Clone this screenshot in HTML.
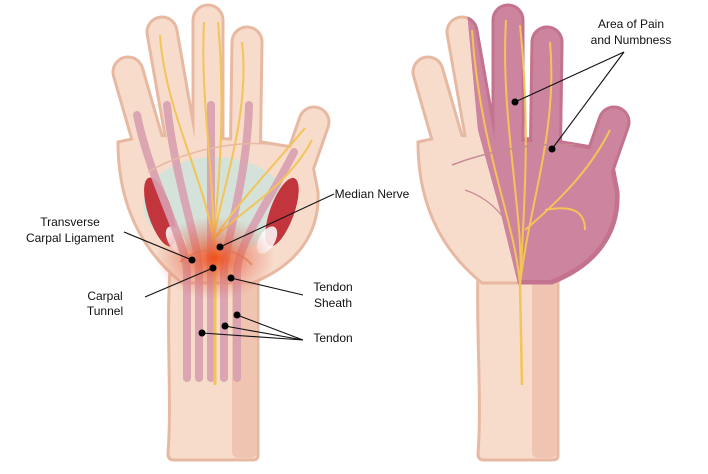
<!DOCTYPE html>
<html><head><meta charset="utf-8"><style>
html,body{margin:0;padding:0;background:#fff;}
svg{display:block;}
text{font-family:"Liberation Sans",sans-serif;font-size:12px;fill:#111;text-anchor:middle;}
</style></head><body>
<svg width="708" height="474" viewBox="0 0 708 474" xmlns="http://www.w3.org/2000/svg">
<defs>
<radialGradient id="glow" cx="0.5" cy="0.5" r="0.5">
<stop offset="0" stop-color="#f04a10" stop-opacity="0.95"/>
<stop offset="0.35" stop-color="#e8603a" stop-opacity="0.65"/>
<stop offset="1" stop-color="#e07060" stop-opacity="0"/>
</radialGradient>
<clipPath id="pinkclip"><polygon points="466,0 478,130 500,210 520,292 708,292 708,0"/></clipPath>
<g id="fing">
<line x1="128" y1="72" x2="162" y2="190" stroke-linecap="round"/>
<line x1="162" y1="32" x2="188" y2="180" stroke-linecap="round"/>
<line x1="208" y1="20" x2="208" y2="180" stroke-linecap="round"/>
<line x1="247" y1="42" x2="245" y2="180" stroke-linecap="round"/>
<line x1="314" y1="122" x2="285" y2="205" stroke-linecap="round"/>
</g>
<path id="palm" d="M118,142 C118,195 135,245 182,283 L252,283 C298,265 320,232 318,192 L310,150 L250,140 L150,135 Z"/>
</defs>

<!-- LEFT HAND -->
<g>
<path d="M170,270 L258,270 L258,456 Q258,460 252,460 L174,460 Q168,460 168,454 C172,400 166,330 170,270 Z" fill="#f7dccc" stroke="#e8b9a2" stroke-width="3"/>
<rect x="232" y="272" width="25" height="186" rx="6" fill="#efc5b2"/>
<g stroke="#e8b9a2" stroke-width="33"><use href="#fing"/></g>
<use href="#palm" fill="#f7dccc" stroke="#e8b9a2" stroke-width="3"/>
<g stroke="#f7dccc" stroke-width="27"><use href="#fing"/></g>
<path d="M121,145 C121,195 138,243 184,280 L250,280 C295,263 316,232 315,193 L307,152 L250,143 L150,138 Z" fill="#f7dccc"/>
<ellipse cx="215" cy="205" rx="72" ry="48" fill="#cfe3dc" opacity="0.85"/>
<ellipse cx="160" cy="212" rx="12" ry="36" transform="rotate(-18 160 212)" fill="#c2353c"/>
<ellipse cx="176" cy="240" rx="8" ry="15" transform="rotate(-30 176 240)" fill="#fff" opacity="0.85"/>
<ellipse cx="282" cy="212" rx="12" ry="36" transform="rotate(20 282 212)" fill="#c2353c"/>
<ellipse cx="267" cy="240" rx="8" ry="15" transform="rotate(30 267 240)" fill="#fff" opacity="0.85"/>
<g stroke="#d9a0b0" stroke-width="8" fill="none" stroke-linecap="round" opacity="0.9">
<path d="M137,115 C150,180 185,240 187,270 L187,378"/>
<path d="M167,105 C175,180 198,240 199,270 L199,378"/>
<path d="M211,105 L211,378"/>
<path d="M249,105 C247,180 226,240 224,270 L224,378"/>
<path d="M294,152 C270,200 240,240 237,270 L237,378"/>
</g>
<g stroke="#f3c457" stroke-width="2" fill="none">
<path d="M213,240 C205,180 165,110 160,35"/>
<path d="M213,240 C215,180 200,100 204,22"/>
<path d="M213,240 C220,180 225,100 218,22"/>
<path d="M213,240 C225,180 250,110 242,42"/>
<path d="M213,240 C240,200 270,170 305,128"/>
<path d="M213,240 C240,210 285,190 312,140"/>
<path d="M215,240 L215,385" stroke-width="3"/>
</g>
<path d="M148,172 C190,148 240,140 278,145" stroke="#e8b9a2" stroke-width="1.5" fill="none"/>
<ellipse cx="215" cy="258" rx="60" ry="42" fill="url(#glow)"/>
<path d="M180,262 C200,245 235,245 252,265" stroke="#e07050" stroke-width="2" fill="none" opacity="0.6"/>
</g>

<!-- RIGHT HAND -->
<g transform="translate(300,0)">
<path d="M178,270 L258,270 L258,456 Q258,460 252,460 L184,460 Q178,460 178,454 C182,400 176,330 178,270 Z" fill="#f7dccc" stroke="#e8b9a2" stroke-width="3"/>
<rect x="232" y="272" width="25" height="186" rx="6" fill="#efc5b2"/>
<g stroke="#e8b9a2" stroke-width="33"><use href="#fing"/></g>
<use href="#palm" fill="#f7dccc" stroke="#e8b9a2" stroke-width="3"/>
<g stroke="#f7dccc" stroke-width="27"><use href="#fing"/></g>
<path d="M121,145 C121,195 138,243 184,280 L250,280 C295,263 316,232 315,193 L307,152 L250,143 L150,138 Z" fill="#f7dccc"/>
</g>
<g clip-path="url(#pinkclip)">
<g transform="translate(300,0)">
<g stroke="#c4738f" stroke-width="33"><use href="#fing"/></g>
<use href="#palm" fill="#c4738f" stroke="#c4738f" stroke-width="3"/>
<g stroke="#cc849f" stroke-width="27"><use href="#fing"/></g>
<path d="M121,145 C121,195 138,243 184,280 L250,280 C295,263 316,232 315,193 L307,152 L250,143 L150,138 Z" fill="#cc849f"/>
</g>
</g>
<g stroke="#f3c457" stroke-width="2" fill="none">
<path d="M520,285 C515,220 480,150 472,30"/>
<path d="M520,285 C525,220 500,120 506,20"/>
<path d="M520,285 C525,200 530,120 520,25"/>
<path d="M520,285 C530,200 558,130 550,42"/>
<path d="M525,230 C560,200 590,170 610,130"/>
<path d="M545,210 C570,205 585,210 585,230"/>
<path d="M520,285 L522,385" stroke-width="2.5"/>
</g>
<path d="M452,165 C490,150 540,142 575,145" stroke="#c78a96" stroke-width="1.5" fill="none"/>
<path d="M465,190 C480,195 495,205 505,220" stroke="#c78a96" stroke-width="1.2" fill="none"/>

<!-- labels -->
<g stroke="#111" stroke-width="1.1" fill="none">
<line x1="334" y1="194" x2="220" y2="247"/>
<line x1="124" y1="232" x2="192" y2="260"/>
<line x1="145" y1="297" x2="213" y2="268"/>
<line x1="303" y1="295" x2="231" y2="278"/>
<line x1="303" y1="340" x2="237" y2="315"/>
<line x1="303" y1="340" x2="225" y2="326"/>
<line x1="303" y1="340" x2="202" y2="333"/>
<line x1="624" y1="52" x2="515" y2="102"/>
<line x1="624" y1="52" x2="552" y2="149"/>
</g>
<g fill="#000">
<circle cx="220" cy="247" r="3.5"/><circle cx="192" cy="260" r="3.5"/><circle cx="213" cy="268" r="3.5"/>
<circle cx="231" cy="278" r="3.5"/><circle cx="237" cy="315" r="3.5"/><circle cx="225" cy="326" r="3.5"/>
<circle cx="202" cy="333" r="3.5"/><circle cx="515" cy="102" r="3.5"/><circle cx="552" cy="149" r="3.5"/>
</g>
<text x="372" y="198">Median Nerve</text>
<text x="70" y="226">Transverse</text>
<text x="70" y="242">Carpal Ligament</text>
<text x="105" y="300">Carpal</text>
<text x="105" y="315">Tunnel</text>
<text x="333" y="291">Tendon</text>
<text x="333" y="307">Sheath</text>
<text x="333" y="342">Tendon</text>
<text x="631" y="28">Area of Pain</text>
<text x="631" y="44">and Numbness</text>
</svg>
</body></html>
